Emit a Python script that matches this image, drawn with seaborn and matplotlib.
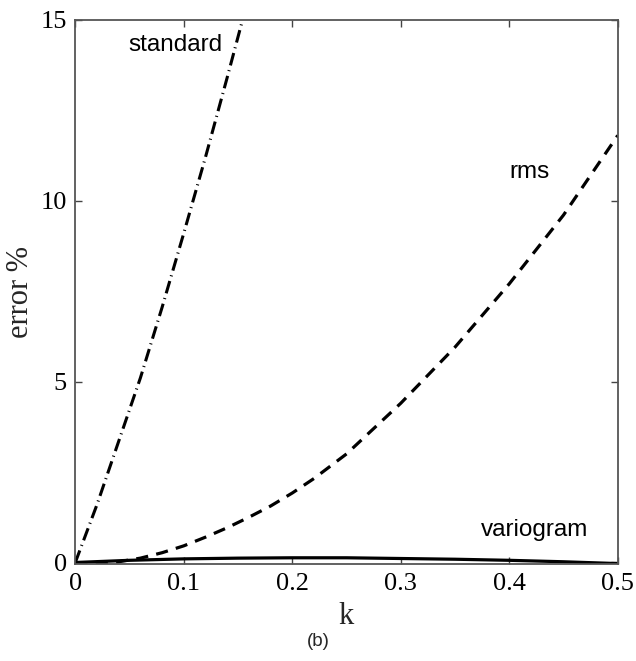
import matplotlib
matplotlib.use("Agg")
import matplotlib.pyplot as plt
import seaborn as sns
import pandas as pd

# ---- data ----
k_standard = [0.0, 0.02, 0.04, 0.06, 0.08, 0.10, 0.12, 0.14, 0.156]
err_standard = [0.0, 1.6, 3.35, 5.1, 7.05, 9.1, 11.2, 13.4, 15.2]

k_rms = [0.0, 0.02, 0.04, 0.06, 0.08, 0.10, 0.12, 0.14, 0.16, 0.18, 0.20,
         0.22, 0.25, 0.30, 0.35, 0.40, 0.45, 0.50]
err_rms = [-0.05, -0.04, 0.02, 0.12, 0.27, 0.46, 0.70, 0.96, 1.25, 1.56, 1.92,
           2.32, 3.0, 4.4, 5.95, 7.7, 9.6, 11.8]

k_vario = [0.0, 0.05, 0.10, 0.15, 0.20, 0.25, 0.30, 0.35, 0.40, 0.45, 0.50]
err_vario = [0.0, 0.06, 0.10, 0.12, 0.13, 0.13, 0.11, 0.09, 0.06, 0.02, -0.03]

x_ticks = [0, 0.1, 0.2, 0.3, 0.4, 0.5]
x_ticklabels = ["0", "0.1", "0.2", "0.3", "0.4", "0.5"]
y_ticks = [0, 5, 10, 15]
y_ticklabels = ["0", "5", "10", "15"]

labels = {"standard": (0.092, 14.3), "rms": (0.419, 10.8), "variogram": (0.4235, 0.9)}

sns.set_theme(style="white")
plt.rcParams["font.family"] = ["Liberation Serif", "DejaVu Serif"]

fig = plt.figure(figsize=(6.36, 6.61), dpi=100)
ax = fig.add_axes([0.1184, 0.1463, 0.9713 - 0.1184, 0.9703 - 0.1463])

df_s = pd.DataFrame({"k": k_standard, "err": err_standard})
df_r = pd.DataFrame({"k": k_rms, "err": err_rms})
df_v = pd.DataFrame({"k": k_vario, "err": err_vario})

sns.lineplot(data=df_s, x="k", y="err", ax=ax, color="black", lw=2.2, estimator=None)
ax.lines[-1].set_dashes((4.2, 1.6, 0.35, 1.6))
sns.lineplot(data=df_r, x="k", y="err", ax=ax, color="black", lw=2.3, estimator=None)
ax.lines[-1].set_dashes((3.8, 2.6))
sns.lineplot(data=df_v, x="k", y="err", ax=ax, color="black", lw=2.3, estimator=None)

ax.set_xlim(0, 0.5)
ax.set_ylim(-0.05, 15)
ax.set_xticks(x_ticks)
ax.set_xticklabels(x_ticklabels)
ax.set_yticks(y_ticks)
ax.set_yticklabels(y_ticklabels)
ax.tick_params(direction="in", length=5, width=1, color="#444444",
               top=True, right=True, bottom=True, left=True,
               labelsize=19, labelcolor="black", pad=6)
for sp in ax.spines.values():
    sp.set_visible(True)
    sp.set_color("#555555")
    sp.set_linewidth(1.3)

ax.set_xlabel("k", fontsize=22, labelpad=5)
ax.set_ylabel("error %", fontsize=22, labelpad=4)

for name, (xk, yv) in labels.items():
    ax.text(xk, yv, name, ha="center", va="center", fontsize=17.5,
            family=["Liberation Sans", "DejaVu Sans"], color="black")

fig.text(0.5, 0.03, "(b)", ha="center", va="center", fontsize=13.5,
         family=["Liberation Sans", "DejaVu Sans"])

fig.savefig("out.png", dpi=100)
